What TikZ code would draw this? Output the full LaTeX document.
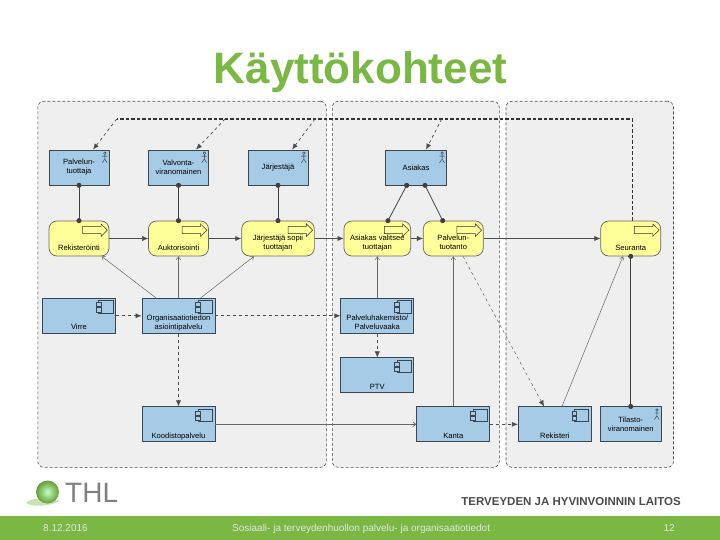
\documentclass[tikz,border=0pt]{standalone}
\usepackage{fontspec}
\setmainfont{Liberation Sans}
\usepackage{xcolor}
\usetikzlibrary{positioning,arrows.meta}
\definecolor{thlgreen}{HTML}{7AB843}
\definecolor{boxblue}{HTML}{A6CBE6}
\definecolor{procyellow}{HTML}{FFFF99}
\definecolor{panelgrey}{HTML}{EFEFEF}
\definecolor{edgegrey}{HTML}{3C4650}
\tikzset{
  panel/.style={draw=black!70, fill=panelgrey, densely dashed, rounded corners=6pt, line width=.6pt, anchor=north west, inner sep=0pt},
  actor/.style={draw=edgegrey, fill=boxblue, line width=.7pt, minimum width=60pt, minimum height=35pt, inner sep=0pt, align=center, font=\fontsize{7.6}{9}\selectfont},
  comp/.style={actor, minimum width=73pt},
  proc/.style={actor, draw=black!60, fill=procyellow, rounded corners=8pt},
  assoc/.style={draw=black!75, line width=.8pt, shorten <=-2.5pt, shorten >=-2.5pt, {Circle[length=5pt]}-{Circle[length=5pt]}},
  flow/.style={draw=black!70, line width=.5pt, -{Latex[length=6pt,width=5pt]}},
  dflow/.style={flow, dashed, line width=.7pt},
  serve/.style={draw=black!60, line width=.5pt, -{Straight Barb[length=3pt,width=4.5pt]}},
  footer/.style={text=white!90!black, font=\fontsize{10}{11}\selectfont, inner sep=0pt}
}
% text set low in a box: one or more lines, moved down by #1
\newcommand{\lowtext}[2]{\raisebox{-#1pt}[0pt][0pt]{\begin{tabular}{@{}c@{}}#2\end{tabular}}}
\newcommand{\lowline}[2]{\raisebox{-#1pt}[0pt][0pt]{#2}}
% small symbols in the corner of a box
\newcommand{\actormark}[1]{
  \begin{scope}[shift={(#1.north east)}, draw=black!80, line width=.4pt]
    \draw (-4.5,3.5) circle (1.3);
    \draw (-4.5,4.8) -- (-4.5,9.5) (-7.3,6.5) -- (-1.9,6.5) (-7,13) -- (-4.5,9.5) -- (-2.2,13);
  \end{scope}}
\newcommand{\procmark}[1]{
  \begin{scope}[shift={(#1.north east)}]
    \draw[draw=black!80, fill=procyellow, line width=.5pt] (-26.7,5.7) -- (-8.3,5.7) -- (-8.3,3.3) -- (-2,9.5) -- (-8.3,15.7) -- (-8.3,13) -- (-26.7,13) -- cycle;
  \end{scope}}
\newcommand{\compmark}[1]{
  \begin{scope}[shift={(#1.north east)}]
    \draw[draw=edgegrey, line width=.4pt] (-17.3,2.3) rectangle (-3,15);
    \draw[draw=edgegrey, fill=boxblue, line width=.4pt] (-19.7,4.3) rectangle (-15,8.3) (-19.7,9.7) rectangle (-15,14);
  \end{scope}}

\begin{document}
\begin{tikzpicture}[x=1pt, y=-1pt, node distance=99.5pt]
  \useasboundingbox (0,0) rectangle (720,540);
  \fill[white] (0,0) rectangle (720,540);

  \node[text=thlgreen, font=\fontsize{44}{44}\selectfont\bfseries, inner sep=0pt] (title) at (360.5,72) {Käyttökohteet};

  \node[panel, minimum width=288.5pt, minimum height=366pt] (leftpanel) at (37.5,101) {};
  \node[panel, minimum width=167pt, minimum height=366pt] (midpanel) at (332,101) {};
  \node[panel, minimum width=167.5pt, minimum height=366pt] (rightpanel) at (505.7,101) {};

  % actors
  \node[actor] (tuottaja) at (79,167.5) {Palvelun-\\tuottaja};
  \node[actor] (valvonta) [right of=tuottaja] {Valvonta-\\viranomainen};
  \node[actor] (jarjestaja) [right of=valvonta] {Järjestäjä};
  \node[actor, minimum width=60.5pt] (asiakas) at (416,167.5) {Asiakas};

  % processes
  \node[proc] (rekisterointi) at (79,238.5) {\lowline{11.5}{Rekisteröinti}};
  \node[proc] (auktorisointi) [right of=rekisterointi] {\lowline{11.5}{Auktorisointi}};
  \node[proc, minimum width=72.7pt] (sopii) [right of=auktorisointi] {\lowtext{7}{Järjestäjä sopii\\tuottajan}};
  \node[proc, minimum width=66.7pt] (valitsee) at (377.3,238.5) {\lowtext{7}{Asiakas valitsee\\tuottajan}};
  \node[proc] (tuotanto) at (453.3,238.5) {\lowtext{7}{Palvelun-\\tuotanto}};
  \node[proc] (seuranta) at (630.7,238.5) {\lowline{11.5}{Seuranta}};

  % application components
  \node[comp] (virre) at (79,315.8) {\lowline{14}{Virre}};
  \node[comp] (asiointi) at (178.5,315.8) {\lowtext{9}{Organisaatiotiedon\\asiointipalvelu}};
  \node[comp] (koodisto) at (178.5,424.3) {\lowline{14}{Koodistopalvelu}};
  \node[comp] (hakemisto) at (377.3,315.8) {\lowtext{9}{Palveluhakemisto/\\Palveluvaaka}};
  \node[comp] (ptv) at (377.3,375.3) {\lowline{14}{PTV}};
  \node[comp] (kanta) at (453.3,424.3) {\lowline{14}{Kanta}};
  \node[comp] (rekisteri) at (554.8,424.3) {\lowline{14}{Rekisteri}};
  \node[actor, minimum width=60.7pt] (tilasto) at (630.7,424.3) {Tilasto-\\viranomainen};

  \actormark{tuottaja} \actormark{valvonta} \actormark{jarjestaja} \actormark{asiakas} \actormark{tilasto}
  \procmark{rekisterointi} \procmark{auktorisointi} \procmark{sopii} \procmark{valitsee} \procmark{tuotanto} \procmark{seuranta}
  \compmark{virre} \compmark{asiointi} \compmark{koodisto} \compmark{hakemisto} \compmark{ptv} \compmark{kanta} \compmark{rekisteri}

  \path
  (tuottaja) edge[assoc] (rekisterointi)
  (valvonta) edge[assoc] (auktorisointi)
  (jarjestaja) edge[assoc] (sopii)
  (asiakas.south -| 406.7,0) edge[assoc] (valitsee.north -| 388,0)
  (asiakas.south -| 425,0) edge[assoc] (tuotanto.north -| 442.7,0)
  (tilasto) edge[assoc] (seuranta);

  \path
  (rekisterointi) edge[flow] (auktorisointi)
  (auktorisointi) edge[flow] (sopii)
  (sopii) edge[flow] (valitsee)
  (valitsee) edge[flow] (tuotanto)
  (tuotanto) edge[flow] (seuranta)
  (virre) edge[dflow] (asiointi)
  (asiointi) edge[dflow] (hakemisto)
  (asiointi) edge[dflow] (koodisto)
  (hakemisto) edge[dflow, line width=.4pt] (ptv)
  (kanta) edge[dflow] (rekisteri);

  \path
  (asiointi.north -| 156,0) edge[serve] (rekisterointi.south -| 101.7,0)
  (asiointi) edge[serve] (auktorisointi)
  (asiointi.north -| 200.7,0) edge[serve] (sopii.south -| 254,0)
  (hakemisto) edge[serve] (valitsee)
  (kanta) edge[serve] (tuotanto)
  (koodisto) edge[serve, line width=.7pt] (kanta)
  (rekisteri.north -| 562,0) edge[serve] (seuranta.south -| 623,0);
  \draw[dflow, line width=.4pt] (tuotanto.south -| 463,0) -- (rekisteri.north -| 544,0);

  % monitoring line along the top
  \coordinate (corner) at (632.7,119);
  \coordinate (endleft) at (116.7,119);
  \coordinate (midone) at (225,119);
  \coordinate (midtwo) at (315,119);
  \coordinate (midthree) at (441.7,119);
  \draw[draw=black!80, dash pattern=on 3.5pt off 2pt, line width=1.1pt] (seuranta.north -| corner) -- (corner) -- (endleft);
  \draw[dflow] (endleft) -- (tuottaja.north -| 93,0);
  \draw[dflow] (midone) -- (valvonta.north -| 196,0);
  \draw[dflow] (midtwo) -- (jarjestaja.north -| 292,0);
  \draw[dflow] (midthree) -- (asiakas.north -| 426,0);

  % footer
  \fill[thlgreen] (0,516) rectangle (720,540);
  \node[footer, anchor=base west] (pvm) at (43,531.5) {8.12.2016};
  \node[footer, anchor=base west] (alaotsikko) at (232,531.5) {Sosiaali- ja terveydenhuollon palvelu- ja organisaatiotiedot};
  \node[footer, anchor=base east] (sivu) at (675,531.5) {12};
  \node[text=black!70, font=\fontsize{11.5}{12}\selectfont\bfseries, inner sep=0pt, anchor=east] (laitos) at (681,501.5) {TERVEYDEN JA HYVINVOINNIN LAITOS};

  % logo
  \fill[thlgreen!40] (26,503) .. controls (30,497) and (50,498) .. (60,501) .. controls (48,507) and (32,507) .. (26,503) -- cycle;
  \shade[inner color=green!25!white, outer color=thlgreen!85!black] (47.5,492) circle (11.5);
  \node[text=black!50, font=\fontsize{28}{28}\selectfont, inner sep=0pt, anchor=west] (thl) at (65,492.5) {THL};
\end{tikzpicture}
\end{document}
